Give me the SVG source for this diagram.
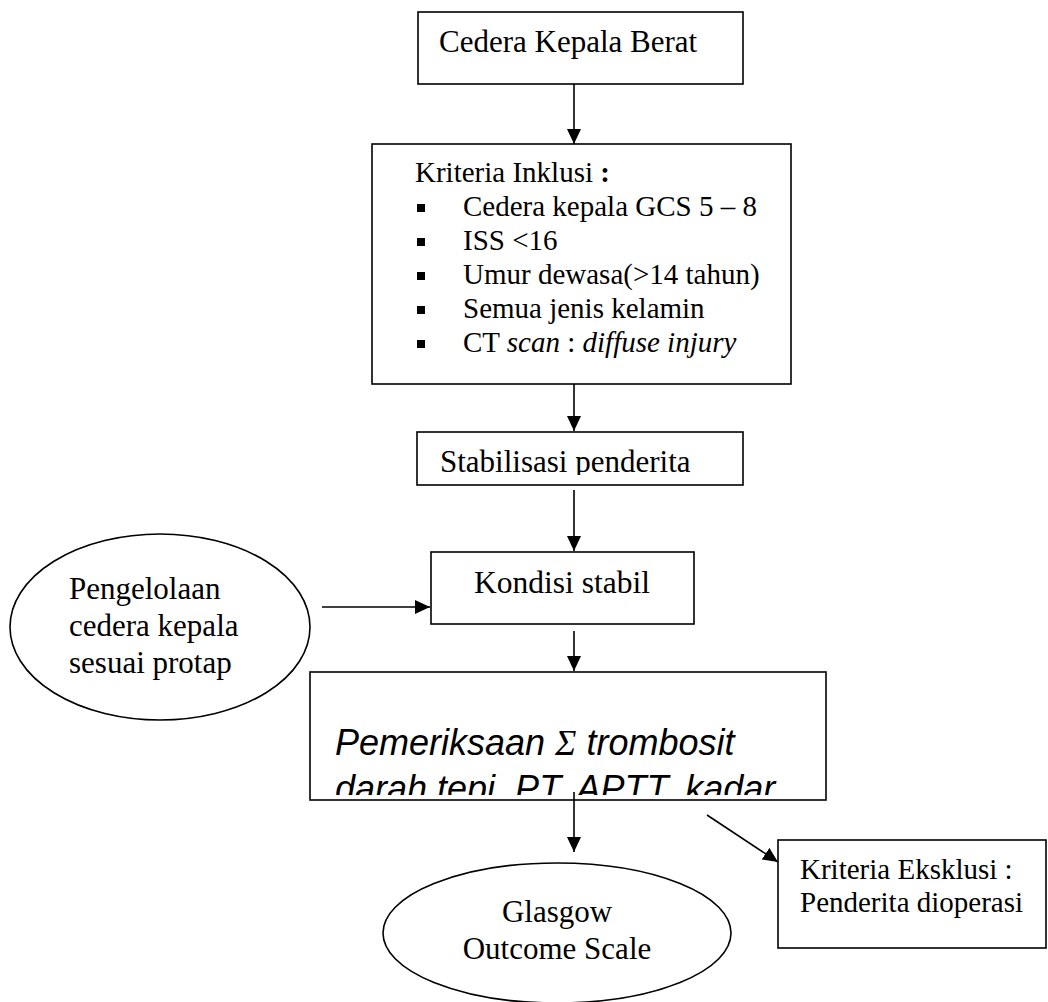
<svg xmlns="http://www.w3.org/2000/svg" width="1048" height="1002" viewBox="0 0 1048 1002">
<style>
.box{fill:#fff;stroke:#000;stroke-width:1.6}
.ell{fill:#fff;stroke:#000;stroke-width:1.6}
.conn{stroke:#000;stroke-width:1.6;fill:none}
.t{font-family:"Liberation Serif","Times New Roman",serif;fill:#000}
.s{font-family:"Liberation Sans",Arial,sans-serif;font-style:italic;fill:#000}
</style>
<defs>
<marker id="ah" markerUnits="userSpaceOnUse" markerWidth="16" markerHeight="14" refX="15" refY="7" orient="auto">
<path d="M0,0 L15,7 L0,14 z" fill="#000"/>
</marker>
<clipPath id="c3"><rect x="418" y="433" width="324" height="42"/></clipPath>
<clipPath id="c5"><rect x="311" y="673" width="514" height="122"/></clipPath>
<g id="bullet"><rect width="8" height="8" fill="#000"/></g>
</defs>
<rect width="1048" height="1002" fill="#fff"/>

<g id="cedera">
<rect class="box" x="418" y="12" width="325" height="72" stroke-width="1.2"/>
<text class="t" x="439" y="52" font-size="31">Cedera Kepala Berat</text>
</g>

<g id="inklusi">
<rect class="box" x="372" y="144" width="419" height="240" stroke-width="2"/>
<text class="t" x="415" y="182" font-size="29">Kriteria Inklusi <tspan font-weight="bold">:</tspan></text>
<use href="#bullet" x="417" y="204"/>
<use href="#bullet" x="417" y="238"/>
<use href="#bullet" x="417" y="272"/>
<use href="#bullet" x="417" y="306"/>
<use href="#bullet" x="417" y="340"/>
<text class="t" x="463" y="216" font-size="29">Cedera kepala GCS 5 – 8</text>
<text class="t" x="463" y="250" font-size="29">ISS &lt;16</text>
<text class="t" x="463" y="284" font-size="29">Umur dewasa(&gt;14 tahun)</text>
<text class="t" x="463" y="318" font-size="29">Semua jenis kelamin</text>
<text class="t" x="463" y="352" font-size="29">CT <tspan font-style="italic">scan</tspan> : <tspan font-style="italic">diffuse injury</tspan></text>
</g>

<g id="stabilisasi">
<rect class="box" x="417" y="432" width="326" height="53"/>
<text class="t" x="440" y="472" font-size="31" clip-path="url(#c3)">Stabilisasi penderita</text>
</g>

<g id="kondisi">
<rect class="box" x="431" y="552" width="263" height="72"/>
<text class="t" x="474" y="593" font-size="31.5">Kondisi stabil</text>
</g>

<g id="pengelolaan">
<ellipse class="ell" cx="160" cy="627" rx="150" ry="93"/>
<text class="t" x="69" y="599" font-size="31">Pengelolaan</text>
<text class="t" x="69" y="636" font-size="31">cedera kepala</text>
<text class="t" x="69" y="673" font-size="31">sesuai protap</text>
</g>

<g id="pemeriksaan">
<rect class="box" x="310" y="672" width="516" height="128" stroke="#333"/>
<g clip-path="url(#c5)">
<text class="s" x="335" y="755" font-size="36">Pemeriksaan <tspan font-family="Liberation Serif, serif">Σ</tspan> trombosit</text>
<text class="s" x="335" y="801" font-size="36">darah tepi, PT, APTT, kadar</text>
</g>
</g>

<g id="glasgow">
<ellipse class="ell" cx="557" cy="933" rx="174" ry="70"/>
<text class="t" x="557" y="922" font-size="31" text-anchor="middle">Glasgow</text>
<text class="t" x="557" y="959" font-size="31" text-anchor="middle">Outcome Scale</text>
</g>

<g id="eksklusi">
<rect class="box" x="778" y="840" width="268" height="108" stroke-width="2"/>
<text class="t" x="800" y="879" font-size="29">Kriteria Eksklusi :</text>
<text class="t" x="800" y="912" font-size="29">Penderita dioperasi</text>
</g>

<g id="connectors">
<line class="conn" x1="574" y1="84" x2="574" y2="144" marker-end="url(#ah)"/>
<line class="conn" x1="574" y1="384" x2="574" y2="431" marker-end="url(#ah)"/>
<line class="conn" x1="574" y1="490" x2="574" y2="551" marker-end="url(#ah)"/>
<line class="conn" x1="322" y1="607" x2="430" y2="607" marker-end="url(#ah)"/>
<line class="conn" x1="574" y1="631" x2="574" y2="671" marker-end="url(#ah)"/>
<line class="conn" x1="574" y1="792" x2="574" y2="852" marker-end="url(#ah)"/>
<line class="conn" x1="707" y1="815" x2="778" y2="862" marker-end="url(#ah)"/>
</g>
</svg>
